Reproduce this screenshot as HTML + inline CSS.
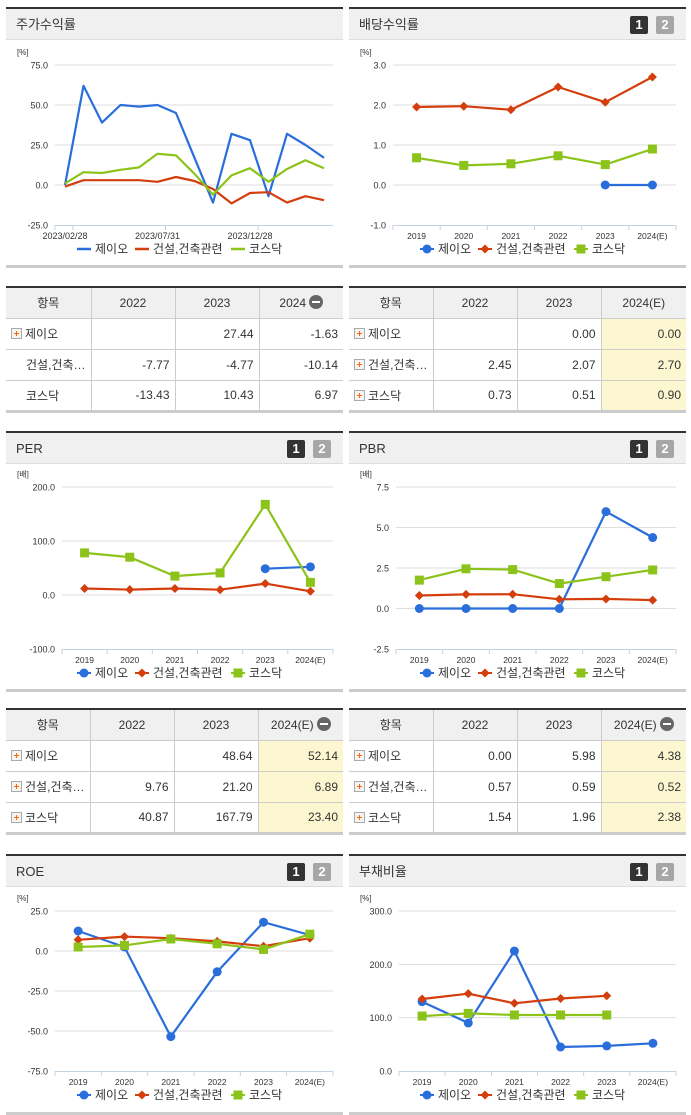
<!DOCTYPE html>
<html><head><meta charset="utf-8">
<style>
*{box-sizing:border-box;margin:0;padding:0}
body{width:691px;height:1115px;background:#fff;position:relative;overflow:hidden;font-family:"Liberation Sans","Noto Sans CJK KR",sans-serif;color:#333}
.panel{position:absolute;border-top:2px solid #333;}
.hdr{position:absolute;left:0;right:0;top:0;height:31px;background:#f0f0f0;border-bottom:1px solid #ddd;font-size:13px;line-height:31px;padding-left:10px;color:#333}
.pbot{position:absolute;left:0;right:0;height:3px;background:#ccc}
.badge{position:absolute;top:7px;width:18px;height:18px;font-size:13px;font-weight:bold;color:#fff;text-align:center;line-height:18px;border-radius:2px}
.b1{background:#333}.b2{background:#a6a6a6}
table{position:absolute;border-collapse:collapse;font-size:12px;border-top:2px solid #333;border-bottom:3px solid #ccc}
td,th{border-left:1px solid #ccc;border-top:1px solid #ccc;height:31px;font-weight:normal;padding:0 5px}
tr>*:first-child{border-left:none}
th{background:#f0f0f0;text-align:center;color:#333}
td{text-align:right;color:#333}
td.n{text-align:left;padding-left:5px;white-space:nowrap}
td.y{background:#fcf7d0}
.pl{display:inline-block;width:11px;height:11px;border:1px solid #aaa;background:#f4f4f4;vertical-align:-1px;margin-right:3px;position:relative}
.pl:before{content:"";position:absolute;left:2px;top:4px;width:5px;height:1px;background:#f60}
.pl:after{content:"";position:absolute;left:4px;top:2px;width:1px;height:5px;background:#f60}
.mi{display:inline-block;width:14px;height:14px;border-radius:50%;background:#666;vertical-align:-2px;margin-left:3px;position:relative}
.mi:after{content:"";position:absolute;left:3px;top:6px;width:8px;height:2px;background:#fff}
#ov{position:absolute;left:0;top:0}
</style></head><body>

<div class="panel" style="left:6px;top:7px;width:337px;height:260px"><div class="hdr">주가수익률</div><div class="pbot" style="top:256px"></div></div>
<div class="panel" style="left:349px;top:7px;width:337px;height:260px"><div class="hdr">배당수익률</div><div class="badge b1" style="left:281px">1</div><div class="badge b2" style="left:307px">2</div><div class="pbot" style="top:256px"></div></div>

<table style="left:6px;top:286px;width:337px">
<tr><th style="width:84px">항목</th><th style="width:84px">2022</th><th style="width:84px">2023</th><th>2024<span class="mi"></span></th></tr>
<tr><td class="n"><span class="pl"></span>제이오</td><td></td><td>27.44</td><td>-1.63</td></tr>
<tr><td class="n" style="padding-left:20px">건설,건축…</td><td>-7.77</td><td>-4.77</td><td>-10.14</td></tr>
<tr><td class="n" style="padding-left:20px">코스닥</td><td>-13.43</td><td>10.43</td><td>6.97</td></tr>
</table>
<table style="left:349px;top:286px;width:337px">
<tr><th style="width:84px">항목</th><th style="width:84px">2022</th><th style="width:84px">2023</th><th>2024(E)</th></tr>
<tr><td class="n"><span class="pl"></span>제이오</td><td></td><td>0.00</td><td class="y">0.00</td></tr>
<tr><td class="n"><span class="pl"></span>건설,건축…</td><td>2.45</td><td>2.07</td><td class="y">2.70</td></tr>
<tr><td class="n"><span class="pl"></span>코스닥</td><td>0.73</td><td>0.51</td><td class="y">0.90</td></tr>
</table>

<div class="panel" style="left:6px;top:431px;width:337px;height:260px"><div class="hdr">PER</div><div class="badge b1" style="left:281px">1</div><div class="badge b2" style="left:307px">2</div><div class="pbot" style="top:256px"></div></div>
<div class="panel" style="left:349px;top:431px;width:337px;height:260px"><div class="hdr">PBR</div><div class="badge b1" style="left:281px">1</div><div class="badge b2" style="left:307px">2</div><div class="pbot" style="top:256px"></div></div>

<table style="left:6px;top:708px;width:337px">
<tr><th style="width:84px">항목</th><th style="width:84px">2022</th><th style="width:84px">2023</th><th>2024(E)<span class="mi"></span></th></tr>
<tr><td class="n"><span class="pl"></span>제이오</td><td></td><td>48.64</td><td class="y">52.14</td></tr>
<tr><td class="n"><span class="pl"></span>건설,건축…</td><td>9.76</td><td>21.20</td><td class="y">6.89</td></tr>
<tr><td class="n"><span class="pl"></span>코스닥</td><td>40.87</td><td>167.79</td><td class="y">23.40</td></tr>
</table>
<table style="left:349px;top:708px;width:337px">
<tr><th style="width:84px">항목</th><th style="width:84px">2022</th><th style="width:84px">2023</th><th>2024(E)<span class="mi"></span></th></tr>
<tr><td class="n"><span class="pl"></span>제이오</td><td>0.00</td><td>5.98</td><td class="y">4.38</td></tr>
<tr><td class="n"><span class="pl"></span>건설,건축…</td><td>0.57</td><td>0.59</td><td class="y">0.52</td></tr>
<tr><td class="n"><span class="pl"></span>코스닥</td><td>1.54</td><td>1.96</td><td class="y">2.38</td></tr>
</table>

<div class="panel" style="left:6px;top:854px;width:337px;height:260px"><div class="hdr">ROE</div><div class="badge b1" style="left:281px">1</div><div class="badge b2" style="left:307px">2</div><div class="pbot" style="top:256px"></div></div>
<div class="panel" style="left:349px;top:854px;width:337px;height:260px"><div class="hdr">부채비율</div><div class="badge b1" style="left:281px">1</div><div class="badge b2" style="left:307px">2</div><div class="pbot" style="top:256px"></div></div>

<svg id="ov" width="691" height="1115" xmlns="http://www.w3.org/2000/svg" font-family="Liberation Sans, Noto Sans CJK KR, sans-serif"></svg>

<script>
const years = ["2019","2020","2021","2022","2023","2024(E)"];
const seriesNames = ["제이오","건설,건축관련","코스닥"];
const stockDates = ["2023/02/28","2023/07/31","2023/12/28"];
const stockJeio = [0,62,39,50,49,50,45,17,-11,32,28,-7,32,25,17];
const stockConst = [-1,3,3,3,3,2,5,2.5,-2.5,-11.5,-5,-4.5,-11,-7,-9.5];
const stockKosdaq = [1,8,7.5,9.5,11,19.5,18.5,7,-6,6,10.5,2,10,15.5,10.5];
const stockTicks = [75,50,25,0,-25];
const divJeio = [null,null,null,null,0,0];
const divConst = [1.95,1.97,1.88,2.45,2.07,2.70];
const divKosdaq = [0.68,0.49,0.53,0.73,0.51,0.90];
const divTicks = [3,2,1,0,-1];
const perJeio = [null,null,null,null,48.64,52.14];
const perConst = [12,10,12,9.76,21.20,6.89];
const perKosdaq = [78,70,35,40.87,167.79,23.40];
const perTicks = [200,100,0,-100];
const pbrJeio = [0,0,0,0,5.98,4.38];
const pbrConst = [0.8,0.87,0.88,0.57,0.59,0.52];
const pbrKosdaq = [1.75,2.45,2.4,1.54,1.96,2.38];
const pbrTicks = [7.5,5,2.5,0,-2.5];
const roeJeio = [12.5,2.5,-53.5,-13,18,10];
const roeConst = [7,9,8,6,3,8];
const roeKosdaq = [2.5,3.5,7.5,4.5,1,10.5];
const roeTicks = [25,0,-25,-50,-75];
const debtJeio = [130,90,225,45,47,52];
const debtConst = [135,145,127,136,141,null];
const debtKosdaq = [103,108,105,105,105,null];
const debtTicks = [300,200,100,0];

const NS="http://www.w3.org/2000/svg";
const svg=document.getElementById('ov');
const COLORS=["#2a6edb","#d43d0c","#8cc31a"];
function mk(tag,attrs,parent){const e=document.createElementNS(NS,tag);for(const k in attrs)e.setAttribute(k,attrs[k]);(parent||svg).appendChild(e);return e;}
function txt(x,y,s,size,anchor,parent){const t=mk('text',{x:x,y:y,'font-size':size,'text-anchor':anchor||'start',fill:'#333'},parent);t.textContent=s;return t;}
function marker(g,kind,x,y,c){
  if(kind===0){const m=mk('circle',{cx:x,cy:y,r:4.5,fill:c},g);}
  else if(kind===1){const m=mk('polygon',{points:`${x},${y-4.5} ${x+4.5},${y} ${x},${y+4.5} ${x-4.5},${y}`,fill:c},g);}
  else{const m=mk('rect',{x:x-4.5,y:y-4.5,width:9,height:9,fill:c},g);}
}
function chart(o){
  const g=mk('g',{});
  
  
  const t=o.ticks,top=t[0],bot=t[t.length-1];
  const ys=v=>o.y0+(top-v)/(top-bot)*(o.y1-o.y0);
  txt(o.ux,o.y0-10,o.unit,8,'start',g);
  t.forEach((v,i)=>{const y=ys(v);
    if(i<t.length-1){const l=mk('line',{x1:o.x0,x2:o.x1,y1:y,y2:y,stroke:'#ddd','stroke-width':1},g);}
    const lb=txt(o.x0-7,y+3.5,v.toFixed(1),9,'end',g);
  });
  mk('line',{x1:o.x0,x2:o.x1,y1:o.y1+.5,y2:o.y1+.5,stroke:'#c5d2e0','stroke-width':1},g);
  let xs;
  if(o.cats){
    const n=o.cats.length,bw=(o.x1-o.x0)/n;
    xs=i=>o.x0+bw*(i+.5);
    for(let i=0;i<=n;i++)mk('line',{x1:o.x0+bw*i,x2:o.x0+bw*i,y1:o.y1,y2:o.y1+5,stroke:'#c5d2e0'},g);
    o.cats.forEach((c,i)=>{const l=txt(xs(i),o.y1+14,c,8.5,'middle',g);});
  } else {
    const n=o.series[0].length;
    xs=i=>o.px0+(o.px1-o.px0)*i/(n-1);
    o.dateLabels.forEach((d,k)=>{const i=k*5;mk('line',{x1:xs(i)+8,x2:xs(i)+8,y1:o.y1,y2:o.y1+5,stroke:'#c5d2e0'},g);
      const l=txt(xs(i),o.y1+14,d,9,'middle',g);});
    mk('line',{x1:o.x0,x2:o.x0,y1:o.y1,y2:o.y1+5,stroke:'#c5d2e0'},g);
  }
  o.series.forEach((s,si)=>{
    const sg=mk('g',{},g);
    
    
    let d='',pen=false;
    s.forEach((v,i)=>{if(v===null){pen=false;return;}d+=(pen?'L':'M')+xs(i).toFixed(1)+' '+ys(v).toFixed(1)+' ';pen=true;});
    mk('path',{d:d,fill:'none',stroke:COLORS[si],'stroke-width':2.2,'stroke-linejoin':'round'},sg);
    if(o.cats)s.forEach((v,i)=>{if(v!==null)marker(sg,si,xs(i),ys(v),COLORS[si]);});
  });
  const ly=o.y1+28, cx=o.lcx;
  const widths=[54,92,48], total=widths.reduce((a,b)=>a+b,0)+8;
  let x=cx-total/2;
  seriesNames.forEach((nm,si)=>{
    const lg=mk('g',{},g);
    
    
    if(o.cats){mk('line',{x1:x,x2:x+14,y1:ly-4,y2:ly-4,stroke:COLORS[si],'stroke-width':2},lg);marker(lg,si,x+7,ly-4,COLORS[si]);}
    else mk('line',{x1:x,x2:x+14,y1:ly-4,y2:ly-4,stroke:COLORS[si],'stroke-width':2.5},lg);
    txt(x+18,ly,nm,12,'start',lg);
    x+=widths[si]+4;
  });
}
chart({name:'stock-return-chart',ticks:stockTicks,unit:'[%]',ux:17,x0:55,x1:333,y0:65,y1:225,px0:65,px1:324,dateLabels:stockDates,series:[stockJeio,stockConst,stockKosdaq],lcx:178});
chart({name:'dividend-chart',ticks:divTicks,unit:'[%]',ux:360,x0:393,x1:676,y0:65,y1:225,cats:years,series:[divJeio,divConst,divKosdaq],lcx:521});
chart({name:'per-chart',ticks:perTicks,unit:'[배]',ux:17,x0:62,x1:333,y0:487,y1:649,cats:years,series:[perJeio,perConst,perKosdaq],lcx:178});
chart({name:'pbr-chart',ticks:pbrTicks,unit:'[배]',ux:360,x0:396,x1:676,y0:487,y1:649,cats:years,series:[pbrJeio,pbrConst,pbrKosdaq],lcx:521});
chart({name:'roe-chart',ticks:roeTicks,unit:'[%]',ux:17,x0:55,x1:333,y0:911,y1:1071,cats:years,series:[roeJeio,roeConst,roeKosdaq],lcx:178});
chart({name:'debt-ratio-chart',ticks:debtTicks,unit:'[%]',ux:360,x0:399,x1:676,y0:911,y1:1071,cats:years,series:[debtJeio,debtConst,debtKosdaq],lcx:521});
</script>
</body></html>
